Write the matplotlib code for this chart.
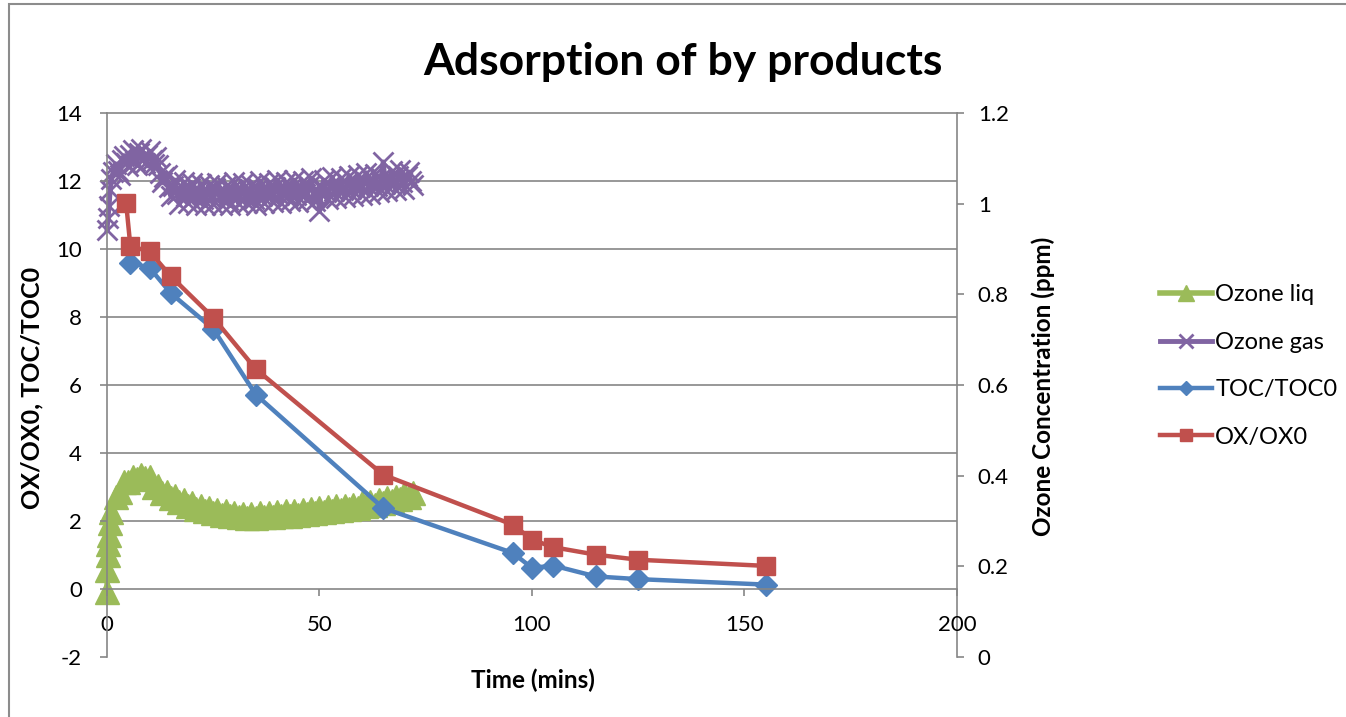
import matplotlib.pyplot as plt
from matplotlib.lines import Line2D
from matplotlib.patches import Rectangle

plt.rcParams['font.family'] = ['Lato', 'DejaVu Sans']
plt.rcParams['axes.unicode_minus'] = False

# TOC and oxidant ratios (left axis)
toc_t = [5.5, 10, 15, 25, 35, 65, 95.5, 100, 105, 115, 125, 155]
toc_ratio = [9.6, 9.45, 8.7, 7.65, 5.72, 2.38, 1.06, 0.62, 0.69, 0.37, 0.29, 0.13]

ox_t = [4.5, 5.5, 10, 15, 25, 35, 65, 95.5, 100, 105, 115, 125, 155]
ox_ratio = [11.35, 10.08, 9.93, 9.2, 7.98, 6.47, 3.36, 1.89, 1.45, 1.23, 1.01, 0.86, 0.68]

# ozone gas logger, every 30 s (right axis, ppm)
gas_t = [0, 0.25, 0.5, 0.75,
         1, 1.5, 2, 2.5, 3, 3.5, 4, 4.5, 5, 5.5, 6, 6.5, 7, 7.5, 8, 8.5, 9, 9.5,
         10, 10.5, 11, 11.5, 12, 12.5, 13, 13.5, 14, 14.5, 15, 15.5, 16, 16.5,
         17, 17.5, 18, 18.5, 19, 19.5, 20, 20.5, 21, 21.5, 22, 22.5, 23, 23.5,
         24, 24.5, 25, 25.5, 26, 26.5, 27, 27.5, 28, 28.5, 29, 29.5, 30, 30.5,
         31, 31.5, 32, 32.5, 33, 33.5, 34, 34.5, 35, 35.5, 36, 36.5, 37, 37.5,
         38, 38.5, 39, 39.5, 40, 40.5, 41, 41.5, 42, 42.5, 43, 43.5, 44, 44.5,
         45, 45.5, 46, 46.5, 47, 47.5, 48, 48.5, 49, 49.5, 50, 50.5, 51, 51.5,
         52, 52.5, 53, 53.5, 54, 54.5, 55, 55.5, 56, 56.5, 57, 57.5, 58, 58.5,
         59, 59.5, 60, 60.5, 61, 61.5, 62, 62.5, 63, 63.5, 64, 64.5, 65, 65.5,
         66, 66.5, 67, 67.5, 68, 68.5, 69, 69.5, 70, 70.5, 71, 71.5, 72]
gas_ppm = [0.942, 0.968, 0.995, 1.030,
           1.055, 1.070, 1.088, 1.072, 1.064, 1.096, 1.106, 1.090, 1.082, 1.108,
           1.118, 1.094, 1.086, 1.112, 1.120, 1.098, 1.090, 1.108,
           1.116, 1.096, 1.088, 1.102, 1.086, 1.068, 1.048, 1.058, 1.064, 1.036,
           1.016, 1.040, 1.052, 1.022,
           1.000, 1.030, 1.048, 1.018, 1.002, 1.034, 1.046, 1.014, 0.998, 1.030,
           1.044, 1.010, 0.996, 1.028,
           1.042, 1.012, 1.000, 1.034, 1.046, 1.014, 0.998, 1.026, 1.040, 1.008,
           0.996, 1.032, 1.048, 1.016,
           1.000, 1.030, 1.046, 1.014, 1.002, 1.028, 1.042, 1.010, 0.998, 1.034,
           1.050, 1.018, 1.002, 1.030,
           1.046, 1.016, 1.004, 1.036, 1.052, 1.020, 1.002, 1.032, 1.048, 1.018,
           1.006, 1.036, 1.052, 1.020,
           1.004, 1.034, 1.050, 1.022, 1.008, 1.040, 1.056, 1.024, 1.006, 1.030,
           0.984, 1.036, 1.052, 1.026,
           1.010, 1.040, 1.058, 1.028, 1.012, 1.042, 1.056, 1.030, 1.014, 1.046,
           1.062, 1.032, 1.016, 1.048,
           1.064, 1.036, 1.020, 1.052, 1.068, 1.038, 1.022, 1.050, 1.066, 1.040,
           1.026, 1.056, 1.092, 1.044,
           1.028, 1.058, 1.072, 1.046, 1.030, 1.060, 1.074, 1.048, 1.032, 1.062,
           1.070, 1.050, 1.042]

# dissolved ozone probe, every minute (right axis, ppm)
liq_t = [0, 0.1, 0.2, 0.3, 0.4, 0.6, 1, 2, 3, 4, 5, 6, 7, 8, 9, 10, 11, 12, 13,
         14, 15, 16, 17, 18, 19, 20, 21, 22, 23, 24, 25, 26, 27, 28, 29, 30, 31,
         32, 33, 34, 35, 36, 37, 38, 39, 40, 41, 42, 43, 44, 45, 46, 47, 48, 49,
         50, 51, 52, 53, 54, 55, 56, 57, 58, 59, 60, 61, 62, 63, 64, 65, 66, 67,
         68, 69, 70, 71, 72]
liq_ppm = [0.144, 0.192, 0.225, 0.250, 0.270, 0.295, 0.320, 0.352, 0.364, 0.386,
           0.386, 0.397, 0.392, 0.402, 0.395, 0.398, 0.376, 0.377, 0.362, 0.365,
           0.350, 0.355, 0.341, 0.346, 0.333, 0.339, 0.327, 0.333, 0.322, 0.328,
           0.317, 0.324, 0.313, 0.321, 0.310, 0.318, 0.308, 0.316, 0.307, 0.316,
           0.307, 0.317, 0.308, 0.318, 0.309, 0.319, 0.311, 0.321, 0.312, 0.322,
           0.314, 0.324, 0.316, 0.326, 0.318, 0.328, 0.320, 0.330, 0.322, 0.332,
           0.324, 0.334, 0.326, 0.336, 0.329, 0.339, 0.332, 0.342, 0.336, 0.346,
           0.340, 0.350, 0.344, 0.354, 0.348, 0.359, 0.353, 0.362]

left_ticks = [-2, 0, 2, 4, 6, 8, 10, 12, 14]
right_ticks = [0, 0.2, 0.4, 0.6, 0.8, 1.0, 1.2]
right_labels = ['0', '0.2', '0.4', '0.6', '0.8', '1', '1.2']
x_ticks = [0, 50, 100, 150, 200]

blue = '#4F81BD'
red = '#C0504D'
green = '#9BBB59'
purple = '#8064A2'
axis_grey = '#868686'

fig = plt.figure(figsize=(13.46, 7.17), dpi=100)
fig.patches.append(Rectangle((9 / 1346, -0.1), 1.2, 1.1 - 4 / 717, transform=fig.transFigure,
                             fill=False, edgecolor='#8c8c8c', linewidth=1.5))

ax = fig.add_axes([107 / 1346, 60 / 717, 850 / 1346, 544 / 717])
ax_r = ax.twinx()
ax.set_zorder(2)
ax_r.set_zorder(1)
ax.patch.set_visible(False)

# horizontal gridlines, kept underneath every series
for v in left_ticks[2:-1]:
    ax_r.add_line(Line2D([0, 1], [v, v], transform=ax.get_yaxis_transform(),
                         color=axis_grey, linewidth=1.2, zorder=0))

ax_r.plot(liq_t, liq_ppm, color=green, marker='^', markersize=17, linewidth=4,
          label='Ozone liq', clip_on=False)
ax_r.plot(gas_t, gas_ppm, color=purple, marker='x', markersize=15, markeredgewidth=2,
          linewidth=3.5, label='Ozone gas', clip_on=False)

ax.plot(toc_t, toc_ratio, color=blue, marker='D', markersize=11, linewidth=3.2,
        label='TOC/TOC0')
ax.plot(ox_t, ox_ratio, color=red, marker='s', markersize=13.5, linewidth=3.2,
        label='OX/OX0')

ax.set_xlim(0, 200)
ax.set_ylim(-2, 14)
ax_r.set_ylim(0, 1.2)
ax.set_xticks(x_ticks)
ax.set_yticks(left_ticks)
ax_r.set_yticks(right_ticks)
ax_r.set_yticklabels(right_labels)

ax.spines['bottom'].set_position(('data', 0))
ax.spines['right'].set_visible(False)
for s in ['left', 'bottom', 'top']:
    ax.spines[s].set_color(axis_grey)
    ax.spines[s].set_linewidth(1.2)
for s in ['left', 'bottom', 'top']:
    ax_r.spines[s].set_visible(False)
ax_r.spines['right'].set_color(axis_grey)
ax_r.spines['right'].set_linewidth(1.2)

ax.tick_params(axis='y', direction='out', length=5, width=1.2, color=axis_grey,
               labelsize=16, pad=13)
ax.tick_params(axis='x', direction='out', length=5, width=1.2, color=axis_grey,
               labelsize=16, pad=14)
ax_r.tick_params(axis='y', direction='out', length=5, width=1.2, color=axis_grey,
                 labelsize=16, pad=10)

fig.text(683 / 1346, 1 - 62 / 717, 'Adsorption of by products', ha='center', va='center',
         fontsize=32, fontweight='bold')
fig.text(533 / 1346, 1 - 680 / 717, 'Time (mins)', ha='center', va='center',
         fontsize=17.5, fontweight='bold')
fig.text(32 / 1346, 1 - 388 / 717, 'OX/OX0, TOC/TOC0', ha='center', va='center',
         rotation=90, fontsize=18, fontweight='bold')
fig.text(1043 / 1346, 1 - 386 / 717, 'Ozone Concentration (ppm)', ha='center', va='center',
         rotation=90, fontsize=17.5, fontweight='bold')

handles = ax_r.get_lines()[-2:] + ax.get_lines()
handles = [h for h in handles if h.get_label() in ('Ozone liq', 'Ozone gas', 'TOC/TOC0', 'OX/OX0')]
fig.legend(handles=handles, loc='center left', bbox_to_anchor=(1148 / 1346, 1 - 366 / 717),
           frameon=False, fontsize=17, handlelength=2.2, handletextpad=0.15,
           labelspacing=1.12, markerscale=0.65, borderpad=0)

fig.savefig('out.png', dpi=100)
